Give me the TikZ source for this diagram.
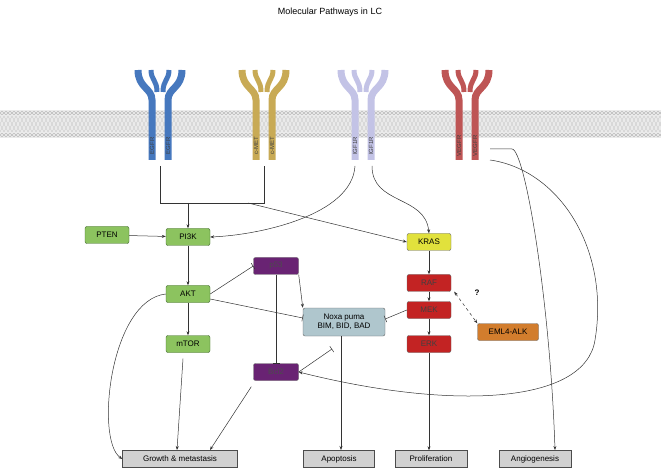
\documentclass[tikz,border=0pt]{standalone}
\usepackage{fontspec}
\setmainfont{Liberation Sans}
\usetikzlibrary{arrows.meta}
\definecolor{gfill}{RGB}{140,195,95}\definecolor{gdraw}{RGB}{60,100,40}
\definecolor{pfill}{RGB}{105,35,115}\definecolor{rfill}{RGB}{195,35,35}
\definecolor{yfill}{RGB}{225,225,60}\definecolor{ofill}{RGB}{210,125,45}
\definecolor{nfill}{RGB}{175,198,205}
\definecolor{cegfr}{RGB}{70,120,190}\definecolor{cmet}{RGB}{200,170,85}
\definecolor{cigf}{RGB}{195,195,230}\definecolor{cveg}{RGB}{190,85,85}
\tikzset{
 x=1pt,y=-1pt,
 box/.style={draw,rounded corners=2pt,minimum height=17pt,inner sep=1pt,font=\fontsize{8}{9}\selectfont},
 gbox/.style={box,fill=gfill,draw=gdraw,minimum width=44pt},
 pbox/.style={box,fill=pfill,draw=black!60,text=black!70,minimum width=45pt},
 rbox/.style={box,fill=rfill,draw=black!60,text=black!75,minimum width=44pt},
 outb/.style={draw=black!70,fill=black!18,minimum height=17pt,font=\fontsize{8}{9}\selectfont},
 ar/.style={-{Stealth[length=4pt,width=3pt]},black!80,line width=0.5pt},
 tee/.style={-{Bar[width=7pt]},black!80,line width=0.5pt},
 ln/.style={black!80,line width=0.5pt},
}
\newcommand{\rcpt}[3]{%
 \begin{scope}[shift={(#1,0)},draw=#2,line width=7pt]
  \draw (-22,70) .. controls (-22,88) and (-8,88) .. (-8,100) -- (-8,160);
  \draw (22,70) .. controls (22,88) and (8,88) .. (8,100) -- (8,160);
  \draw[line width=5pt] (-9,70) .. controls (-9,80) and (-3,80) .. (-3,92);
  \draw[line width=5pt] (9,70) .. controls (9,80) and (3,80) .. (3,92);
  \node[rotate=90,font=\fontsize{6}{6}\selectfont,text=black!75] at (-8,146) {#3};
  \node[rotate=90,font=\fontsize{6}{6}\selectfont,text=black!75] at (8,146) {#3};
 \end{scope}}
\begin{document}
\begin{tikzpicture}
\useasboundingbox (0,0) rectangle (661,470);
\node[font=\fontsize{9}{10}\selectfont] (title) at (330,12) {Molecular Pathways in LC};
% membrane
\fill[black!8] (0,110) rectangle (661,138);
\foreach \i in {0,4,...,660}{
 \draw[black!30,line width=0.3pt] (\i+2,113) circle (1.8);
 \draw[black!30,line width=0.3pt] (\i+2,135) circle (1.8);
 \draw[black!22,line width=0.3pt] (\i,116) -- (\i+4,124) (\i+4,116) -- (\i,124)
   (\i,124) -- (\i+4,132) (\i+4,124) -- (\i,132);}
\rcpt{160}{cegfr}{EGFR}
\rcpt{264}{cmet}{c-MET}
\rcpt{363}{cigf}{IGF1R}
\rcpt{467}{cveg}{VEGFR}
\coordinate (egfr) at (160,166); \coordinate (cmet) at (264,166);
\coordinate (igfl) at (355,166); \coordinate (igfr) at (372,166);
\coordinate (vega) at (490,149); \coordinate (vegb) at (490,160);
% nodes
\node[gbox] (pten) at (107,235) {PTEN};
\node[gbox] (pi3k) at (188,237) {PI3K};
\node[gbox] (akt) at (188,294) {AKT};
\node[gbox] (mtor) at (188,344) {mTOR};
\node[pbox] (p53) at (276,266) {p53};
\node[pbox] (bcl2) at (276,372) {Bcl2};
\node[box,fill=nfill,draw=black!60,minimum width=82pt,minimum height=28pt,align=center,font=\fontsize{8}{9.5}\selectfont] (noxa) at (344,322) {Noxa puma\\BIM, BID, BAD};
\node[box,fill=yfill,draw=black!60,minimum width=44pt] (kras) at (429,242) {KRAS};
\node[rbox] (raf) at (429,283) {RAF};
\node[rbox] (mek) at (429,310) {MEK};
\node[rbox] (erk) at (429,344) {ERK};
\node[box,fill=ofill,draw=black!60,minimum width=61pt] (eml) at (508,332) {EML4-ALK};
\node[font=\bfseries\fontsize{8}{9}\selectfont] (q) at (477,293) {?};
\node[outb,minimum width=115pt] (growth) at (180,459) {Growth \& metastasis};
\node[outb,minimum width=71pt] (apop) at (339,459) {Apoptosis};
\node[outb,minimum width=72pt] (prol) at (431,459) {Proliferation};
\node[outb,minimum width=72pt] (angio) at (535,459) {Angiogenesis};
% connectors
\coordinate (j1) at (160,203); \coordinate (j2) at (264,203);
\coordinate (j3) at (188,203); \coordinate (j4) at (248,203);
\draw[ln] (egfr) -- (j1) -- (j2) -- (cmet);
\draw[ar] (j3) -- (pi3k);
\draw[ar] (j4) -- (kras.west);
\draw[ar] (igfl) .. controls (352,215) and (260,235) .. (pi3k.east);
\draw[ar] (igfr) .. controls (372,205) and (425,195) .. (kras.north);
\draw[ar] (pten) -- (pi3k);
\draw[ar] (pi3k) -- (akt);
\draw[ar] (akt) -- (mtor);
\draw[tee] (akt.east) -- (p53.west);
\draw[tee] ([yshift=-5pt]akt.east) -- ([yshift=4pt]noxa.west);
\draw[tee] (p53) -- (bcl2);
\draw[ar] (p53.south east) -- (noxa.north west);
\draw[tee] (mek.west) -- ([yshift=3pt]noxa.east);
\draw[tee] (bcl2.east) -- (332,349);
\draw[ar] (kras) -- (raf);
\draw[ar] (raf) -- (mek);
\draw[ar] (mek) -- (erk);
\draw[{Stealth[length=4pt,width=3pt]}-{Stealth[length=4pt,width=3pt]},dashed,black!80,line width=0.5pt] ([xshift=3pt]raf.south east) -- (eml.north west);
\draw[ar] (erk) -- (erk|-prol.north);
\draw[ar] (noxa.south) ++(-3,0) -- (341,450);
\draw[ar] (mtor.south) ++(-5,6) -- (177,450);
\draw[ar] (bcl2.south west) ++(-2,6) -- (210,450);
\draw[ar] (akt.west) .. controls (110,300) and (95,440) .. (growth.west);
\draw[ar] (vega) -- (512,149) .. controls (525,150) and (550,300) .. (555,450);
\draw[ar] (vegb) .. controls (560,170) and (610,250) .. (595,340) .. controls (585,405) and (450,410) .. (bcl2.east);
\end{tikzpicture}
\end{document}
